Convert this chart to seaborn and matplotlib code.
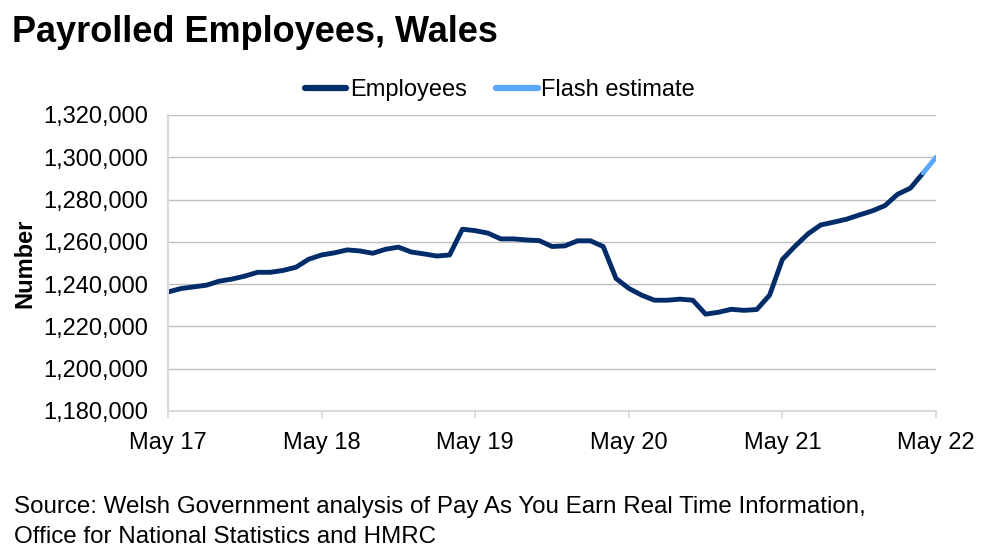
import pandas as pd
import matplotlib.pyplot as plt
import seaborn as sns

# monthly payrolled employees, Wales, May 2017 - Apr 2022
employees = [
    1236300, 1237900, 1238700, 1239500, 1241400, 1242400, 1243800, 1245600,
    1245600, 1246500, 1248000, 1251800, 1253800, 1254800, 1256200, 1255700,
    1254600, 1256500, 1257500, 1255200, 1254300, 1253300, 1253800, 1266000,
    1265300, 1264100, 1261400, 1261400, 1260900, 1260600, 1257800, 1258100,
    1260500, 1260500, 1257800, 1242700, 1238000, 1234800, 1232400, 1232400,
    1232900, 1232400, 1225800, 1226700, 1228100, 1227600, 1228000, 1234800,
    1251700, 1258000, 1263800, 1268000, 1269300, 1270700, 1272700, 1274600,
    1277100, 1282500, 1285400, 1292600,
]
# flash estimate for May 2022 (joined from Apr 2022)
flash = [1292600, 1300000]

tick_labels = ['May 17', 'May 18', 'May 19', 'May 20', 'May 21', 'May 22']
y_ticks = list(range(1180000, 1320001, 20000))

df = pd.concat([
    pd.DataFrame({'month': range(len(employees)), 'value': employees, 'series': 'Employees'}),
    pd.DataFrame({'month': range(len(employees) - 1, len(employees) + 1), 'value': flash,
                  'series': 'Flash estimate'}),
])

sns.set_theme(style='white')
plt.rcParams['font.family'] = ['Liberation Sans', 'DejaVu Sans']
plt.rcParams['text.color'] = 'black'

fig = plt.figure(figsize=(9.93, 5.58), dpi=100)
ax = fig.add_axes([168 / 993, 1 - 411 / 558, (936 - 168) / 993, (411 - 115) / 558])

sns.lineplot(data=df, x='month', y='value', hue='series',
             palette={'Employees': '#002D6A', 'Flash estimate': '#5AA6F8'},
             linewidth=3.5, ax=ax, legend=True)

ax.set_xlim(0, 60)
ax.set_ylim(1180000, 1320000)
ax.set_xticks(range(0, 61, 12))
ax.set_xticklabels(tick_labels, fontsize=17, color='black')
ax.set_yticks(y_ticks)
ax.set_yticklabels([f'{v:,}' for v in y_ticks], fontsize=17, color='black')
ax.tick_params(axis='x', length=5, width=1.2, color='#D9D9D9', pad=10, direction='out', bottom=True)
ax.tick_params(axis='y', length=0, pad=14)

ax.grid(axis='y', color='#BFBFBF', linewidth=1)
ax.set_axisbelow(True)
for side in ['top', 'right']:
    ax.spines[side].set_visible(False)
for side in ['left', 'bottom']:
    ax.spines[side].set_color('#D9D9D9')
    ax.spines[side].set_linewidth(1.5)

ax.set_xlabel('')
ax.set_ylabel('Number', fontsize=17, fontweight='bold', color='black')
ax.yaxis.set_label_coords((36 - 168) / 768, 0.5)

leg = ax.legend(loc='center', bbox_to_anchor=(500 / 993, 1 - 90 / 558),
                bbox_transform=fig.transFigure, ncol=2, frameon=False,
                fontsize=17, handlelength=1.75, handletextpad=0.15, columnspacing=1.25)
for line in leg.get_lines():
    line.set_linewidth(4.5)

fig.text(12 / 993, 1 - 42 / 558, 'Payrolled Employees, Wales', fontsize=26,
         fontweight='bold', ha='left', va='baseline')
fig.text(14 / 993, 1 - 507 / 558,
         'Source: Welsh Government analysis of Pay As You Earn Real Time Information,',
         fontsize=17.4, ha='left', va='center')
fig.text(14 / 993, 1 - 537 / 558, 'Office for National Statistics and HMRC',
         fontsize=17.4, ha='left', va='center')

fig.savefig('out.png', dpi=100)
